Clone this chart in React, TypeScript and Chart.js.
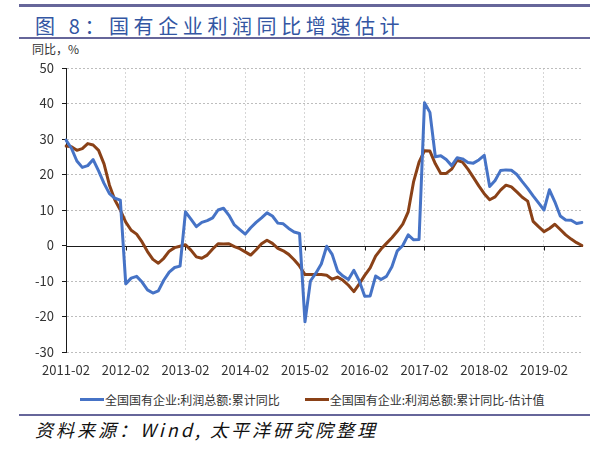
import React, { useEffect, useRef } from "react";
import { Chart, registerables } from "chart.js";

Chart.register(...registerables);

// ---- data ----
const yearsFull = [2011, 2012, 2013, 2014, 2015, 2016, 2017, 2018];
const monthsFull = ["02", "03", "04", "05", "06", "07", "08", "09", "10", "11", "12"];
const months2019 = ["02", "03", "04", "05", "06", "07", "08", "09"];

const categories: string[] = [];
for (const y of yearsFull) for (const m of monthsFull) categories.push(`${y}-${m}`);
for (const m of months2019) categories.push(`2019-${m}`);

const seriesNames = [
  "全国国有企业:利润总额:累计同比",
  "全国国有企业:利润总额:累计同比-估计值",
];

// 全国国有企业:利润总额:累计同比 (%)
const actualYoY = [
  29.7, 27.4, 23.8, 22.0, 22.5, 24.2, 21.0, 17.5, 14.6, 13.3, 12.8,
  -10.8, -9.2, -8.7, -10.3, -12.5, -13.4, -12.8, -9.8, -7.5, -6.2, -5.8,
  9.5, 7.4, 5.3, 6.5, 7.0, 7.8, 10.0, 10.5, 8.5, 5.8, 4.5,
  3.2, 5.0, 6.5, 7.8, 9.2, 8.3, 6.3, 6.1, 4.8, 3.8, 3.4,
  -21.5, -10.0, -7.8, -5.2, -0.2, -2.5, -7.2, -8.6, -9.6, -7.0, -10.0,
  -14.3, -14.2, -8.6, -9.6, -8.7, -6.0, -1.5, 0.0, 3.0, 1.6, 1.7,
  40.2, 37.5, 25.0, 25.3, 24.2, 22.5, 24.7, 24.4, 23.4, 23.2, 24.1,
  25.4, 16.6, 18.3, 21.1, 21.3, 21.2, 20.0, 18.0, 16.1, 14.0, 12.0,
  10.0, 15.7, 12.3, 8.3, 7.2, 7.1, 6.2, 6.5,
];

// 全国国有企业:利润总额:累计同比-估计值 (%)
const estimatedYoY = [
  28.0, 27.8, 26.8, 27.3, 28.7, 28.3, 26.8, 23.0, 17.0, 12.8, 10.0,
  6.6, 4.3, 3.2, 1.0, -1.7, -3.9, -5.0, -3.6, -1.6, -0.6, -0.2,
  0.2, -1.3, -3.2, -3.6, -2.7, -1.0, 0.5, 0.4, 0.5, -0.3, -0.9,
  -1.8, -2.7, -1.2, 0.5, 1.5, 0.6, -0.8, -1.5, -2.5, -4.0, -5.8,
  -8.2, -8.2, -8.2, -8.2, -8.4, -9.5, -8.9, -9.8, -11.2, -13.0, -10.8,
  -8.4, -6.3, -3.0, -1.0, 0.6, 2.2, 4.0, 6.0, 9.5, 18.0, 23.5,
  26.7, 26.6, 23.0, 20.3, 20.3, 21.5, 24.0, 23.5, 21.5, 19.2, 16.8,
  14.6, 12.9, 13.7, 15.6, 17.0, 16.5, 15.1, 13.6, 12.5, 6.8, 5.3,
  3.9, 4.8, 6.0, 4.5, 3.0, 1.8, 0.8, 0.0,
];

const yMin = -30;
const yMax = 50;
const yStep = 10;
const tickEvery = 11; // one label per year (Feb)

const BLUE = "#4673c6";
const BROWN = "#8a4117";
const FONT = "'Noto Sans CJK SC', 'Noto Sans', sans-serif";

const zeroLinePlugin = {
  id: "zeroLine",
  beforeDatasetsDraw(chart: any) {
    const { ctx, chartArea, scales } = chart;
    const y0 = Math.round(scales.y.getPixelForValue(0)) + 0.5;
    ctx.save();
    ctx.strokeStyle = "#1a1a1a";
    ctx.lineWidth = 1;
    ctx.setLineDash([]);
    ctx.beginPath();
    ctx.moveTo(chartArea.left, y0);
    ctx.lineTo(chartArea.right, y0);
    for (const t of scales.x.ticks) {
      if (t.value === 0) continue;
      const x = Math.round(scales.x.getPixelForValue(t.value)) + 0.5;
      ctx.moveTo(x, y0);
      ctx.lineTo(x, y0 + 4);
    }
    ctx.stroke();
    ctx.restore();
  },
};

export default function App() {
  const ref = useRef<HTMLCanvasElement | null>(null);

  useEffect(() => {
    if (!ref.current) return;
    const chart = new Chart(ref.current, {
      type: "line",
      data: {
        labels: categories,
        datasets: [
          {
            label: seriesNames[0],
            data: actualYoY,
            borderColor: BLUE,
            backgroundColor: BLUE,
            borderWidth: 3,
            pointRadius: 0,
            tension: 0,
            fill: false,
            borderJoinStyle: "round",
            borderCapStyle: "round",
          },
          {
            label: seriesNames[1],
            data: estimatedYoY,
            borderColor: BROWN,
            backgroundColor: BROWN,
            borderWidth: 3,
            pointRadius: 0,
            tension: 0,
            fill: false,
            borderJoinStyle: "round",
            borderCapStyle: "round",
          },
        ],
      },
      options: {
        animation: false,
        responsive: false,
        maintainAspectRatio: false,
        layout: { padding: { left: 0, right: 26, top: 28, bottom: 0 } },
        plugins: { legend: { display: false }, tooltip: { enabled: false } },
        scales: {
          x: {
            type: "category",
            offset: false,
            afterBuildTicks: (axis: any) => {
              axis.ticks = axis.ticks.filter((t: any) => t.value % tickEvery === 0);
            },
            afterFit: (axis: any) => {
              axis.height = 33;
            },
            grid: {
              color: (c: any) => (c.index === 0 ? "rgba(0,0,0,0)" : "#d6d6d6"),
              lineWidth: 1,
              drawTicks: false,
            },
            border: { display: false, dash: [2, 2] },
            ticks: {
              autoSkip: false,
              maxRotation: 0,
              minRotation: 0,
              color: "#333333",
              font: { family: FONT, size: 13 },
              padding: 10,
            },
          },
          y: {
            min: yMin,
            max: yMax,
            afterFit: (axis: any) => {
              axis.width = 66;
            },
            ticks: {
              stepSize: yStep,
              color: "#333333",
              font: { family: FONT, size: 13 },
              padding: 8,
            },
            grid: {
              color: (c: any) => (c.tick && c.tick.value === 0 ? "rgba(0,0,0,0)" : "#bdbdbd"),
              lineWidth: 1,
              drawTicks: true,
              tickLength: 4,
              tickColor: "#1a1a1a",
            },
            border: { display: true, color: "#1a1a1a", width: 1, dash: [2, 2] },
          },
        },
      },
      plugins: [zeroLinePlugin],
    });
    return () => chart.destroy();
  }, []);

  const bar = (top: number, h: number) => (
    <div
      style={{
        position: "absolute",
        left: 19,
        width: 571,
        top,
        height: h,
        background: "#66669a",
      }}
    />
  );

  return (
    <div
      style={{
        position: "absolute",
        left: 0,
        top: 0,
        width: 608,
        height: 453,
        background: "#ffffff",
        overflow: "hidden",
        fontFamily: FONT,
      }}
    >
      {bar(4, 3)}
      <div
        style={{
          position: "absolute",
          left: 35,
          top: 14,
          fontSize: 20,
          lineHeight: "24px",
          letterSpacing: 4.6,
          color: "#3356a3",
          whiteSpace: "nowrap",
        }}
      >
        图 8：国有企业利润同比增速估计
      </div>
      {bar(37, 2)}
      <div
        style={{
          position: "absolute",
          left: 32,
          top: 41,
          fontSize: 12,
          lineHeight: "16px",
          color: "#333333",
          whiteSpace: "nowrap",
        }}
      >
        同比，%
      </div>
      <canvas
        ref={ref}
        width={608}
        height={345}
        style={{ position: "absolute", left: 0, top: 40, width: 608, height: 345 }}
      />
      <div
        style={{
          position: "absolute",
          left: 80,
          top: 391,
          height: 16,
          display: "flex",
          alignItems: "center",
          fontSize: 12,
          color: "#333333",
          whiteSpace: "nowrap",
        }}
      >
        <span style={{ display: "inline-block", width: 24, height: 3, background: BLUE }} />
        <span style={{ marginLeft: 1 }}>{seriesNames[0]}</span>
        <span style={{ display: "inline-block", width: 24, height: 3, background: BROWN, marginLeft: 25 }} />
        <span style={{ marginLeft: 1 }}>{seriesNames[1]}</span>
      </div>
      {bar(414, 2)}
      <div
        style={{
          position: "absolute",
          left: 35,
          top: 418,
          fontSize: 18,
          lineHeight: "22px",
          letterSpacing: 3,
          fontStyle: "italic",
          color: "#111111",
          whiteSpace: "nowrap",
        }}
      >
        资料来源：Wind, 太平洋研究院整理
      </div>
    </div>
  );
}
